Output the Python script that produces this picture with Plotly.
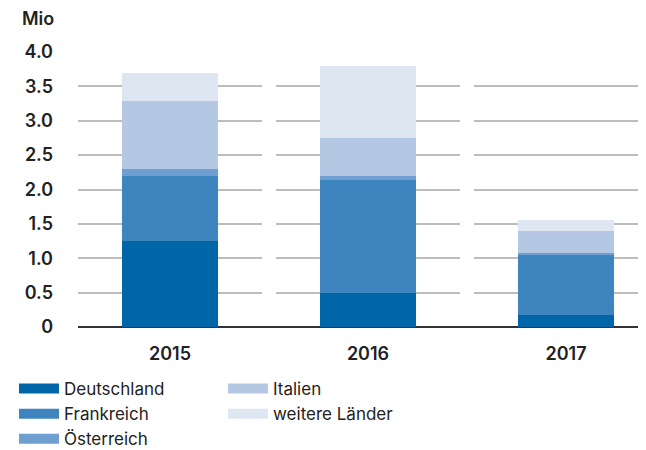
import plotly.graph_objects as go

years = ["2015", "2016", "2017"]
countries = ["Deutschland", "Frankreich", "Österreich", "Italien", "weitere Länder"]
deutschland = [1.25, 0.50, 0.18]
frankreich = [0.95, 1.64, 0.87]
oesterreich = [0.10, 0.06, 0.03]
italien = [0.99, 0.55, 0.32]
weitere = [0.41, 1.04, 0.16]
y_ticks = [0, 0.5, 1.0, 1.5, 2.0, 2.5, 3.0, 3.5, 4.0]
y_labels = ["0", "0.5", "1.0", "1.5", "2.0", "2.5", "3.0", "3.5", "4.0"]

colors = ["#0066a8", "#3e85bf", "#6f9fd0", "#b4c7e3", "#dee6f2"]
legend_ids = ["legend", "legend", "legend", "legend2", "legend2"]
series = [deutschland, frankreich, oesterreich, italien, weitere]

fig = go.Figure()
for name, vals, col, lg in zip(countries, series, colors, legend_ids):
    fig.add_trace(go.Bar(x=years, y=vals, name=name, marker=dict(color=col, line=dict(width=0)),
                         width=0.485, showlegend=False))
    # wide swatch for the legend
    fig.add_trace(go.Scatter(x=[None], y=[None], mode="lines", name=name, legend=lg,
                             line=dict(color=col, width=14)))

# gaps in the gridlines between categories
for xb in [0.5, 1.5]:
    fig.add_shape(type="line", xref="x", yref="y", x0=xb, x1=xb, y0=0.03, y1=4.1,
                  line=dict(color="white", width=14), layer="above")

fig.add_annotation(text="Mio", xref="paper", yref="paper", x=-0.103, y=1.12,
                   xanchor="left", yanchor="middle", showarrow=False,
                   font=dict(size=18, color="#222222", weight=600))

legend_style = dict(orientation="v", yanchor="top", xanchor="left", y=-0.16,
                    traceorder="normal", tracegroupgap=0, itemwidth=40,
                    font=dict(size=17, color="#222222"), bgcolor="rgba(0,0,0,0)")

fig.update_layout(
    width=646, height=450,
    barmode="stack",
    plot_bgcolor="white", paper_bgcolor="white",
    margin=dict(l=70, r=14, t=44, b=131, autoexpand=False),
    font=dict(family="Inter, Roboto, sans-serif", color="#222222"),
    legend=dict(x=-0.1139, **legend_style),
    legend2=dict(x=0.258, **legend_style),
)
fig.update_xaxes(type="category", range=[-0.465, 2.374], showgrid=False, ticks="",
                 tickfont=dict(size=18, weight=600), ticklabelstandoff=14,
                 showline=False, zeroline=False, automargin=False)
fig.update_yaxes(range=[0, 4.0], tickvals=y_ticks, ticktext=y_labels,
                 showgrid=True, gridcolor="#bdbdbd", gridwidth=2,
                 zeroline=True, zerolinecolor="#333333", zerolinewidth=2,
                 tickfont=dict(size=18, weight=600), ticklabelstandoff=24,
                 showline=False, ticks="", automargin=False)

fig.write_html("out.html")
